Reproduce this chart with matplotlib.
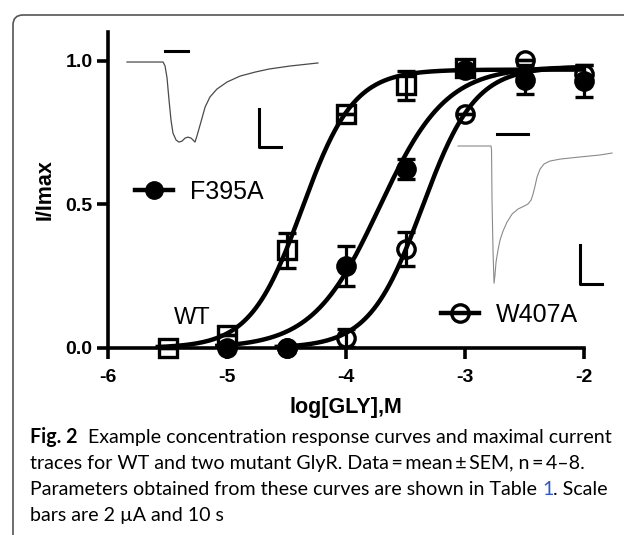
import numpy as np
import matplotlib
matplotlib.use("Agg")
import matplotlib.pyplot as plt
from matplotlib.lines import Line2D
from matplotlib.patches import FancyBboxPatch

plt.rcParams['font.family'] = ['Liberation Sans', 'DejaVu Sans']
plt.rcParams['axes.unicode_minus'] = False

# concentration (log M)
wt_x = [-5.5, -5.0, -4.5, -4.0, -3.5, -3.0]
wt_y = [0.0, 0.045, 0.34, 0.815, 0.915, 0.975]
wt_err = [0.0, 0.0, 0.06, 0.0, 0.05, 0.0]

f395a_x = [-5.0, -4.5, -4.0, -3.5, -3.0, -2.5, -2.0]
f395a_y = [0.0, 0.0, 0.285, 0.625, 0.97, 0.935, 0.93]
f395a_err = [0.0, 0.0, 0.07, 0.035, 0.0, 0.05, 0.055]

w407a_x = [-4.5, -4.0, -3.5, -3.0, -2.5, -2.0]
w407a_y = [0.0, 0.035, 0.345, 0.815, 1.005, 0.955]
w407a_err = [0.0, 0.03, 0.06, 0.0, 0.0, 0.03]

# Hill fit parameters (top, logEC50, slope)
wt_fit = (0.97, -4.37, 2.0)
f395a_fit = (0.98, -3.72, 1.55)
w407a_fit = (0.98, -3.36, 1.95)

# example traces (time s, current uA)
trace1_t = [0, 10.5, 16.4, 17.3, 18.2, 19.1, 20.0, 20.9, 22.3, 23.6, 25.0,
            26.4, 27.7, 29.1, 30.0, 30.9, 31.8, 33.2, 35.5, 37.7, 40.9,
            45.5, 51.4, 58.2, 64.5, 74.1, 86.8]
trace1_i = [0, 0, 0, -0.21, -0.84, -2.0, -3.05, -3.74, -4.1, -4.21, -4.16,
            -4.0, -3.95, -4.0, -4.1, -4.21, -3.89, -3.32, -2.37, -1.84, -1.42,
            -1.05, -0.74, -0.53, -0.37, -0.21, -0.05]
trace2_t = [0, 15.0, 15.23, 15.45, 15.9, 16.36, 16.8, 17.27, 18.18, 19.09,
            20.45, 22.27, 24.55, 27.27, 30.0, 31.8, 33.2, 34.1, 35.0, 35.9,
            37.3, 39.1, 41.8, 46.4, 55.5, 64.5, 70.0]
trace2_i = [0, 0, -0.21, -2.77, -5.33, -7.03, -6.62, -5.95, -5.33, -4.82,
            -4.36, -3.9, -3.49, -3.23, -3.08, -2.97, -2.77, -2.46, -2.05, -1.59,
            -1.18, -0.92, -0.77, -0.67, -0.56, -0.46, -0.36]


def hill(x, top, ec50, n):
    return top / (1 + 10 ** ((ec50 - x) * n))


fig = plt.figure(figsize=(6.24, 5.35), dpi=100)

# rounded frame (runs off the right and bottom edges)
frame = FancyBboxPatch((0.13, -1.0), 10, 5.35 - 0.15 + 1.0,
                       boxstyle="round,pad=0,rounding_size=0.1",
                       transform=fig.dpi_scale_trans, fill=False,
                       ec='#555555', lw=1.2)
fig.add_artist(frame)

ax = fig.add_axes([108 / 624, (535 - 348) / 535, 476 / 624, 316 / 535])
ax.set_xlim(-6, -2)
ax.set_ylim(0, 1.101)

for sp in ['top', 'right']:
    ax.spines[sp].set_visible(False)
for sp in ['left', 'bottom']:
    ax.spines[sp].set_linewidth(2.6)
ax.set_xticks([-6, -5, -4, -3, -2])
ax.set_yticks([0, 0.5, 1.0])
ax.set_yticklabels(['0.0', '0.5', '1.0'])
ax.tick_params(axis='both', direction='out', length=8, width=2.6, labelsize=14)
ax.tick_params(axis='x', pad=7)
ax.tick_params(axis='y', pad=3)
for lab in ax.get_xticklabels() + ax.get_yticklabels():
    lab.set_fontweight('bold')

ax.set_xlabel('log[GLY],M', fontsize=15.5, fontweight='bold', labelpad=8)
ax.set_ylabel('I/Imax', fontsize=15.5, fontweight='bold', labelpad=7)

# fitted curves
for xs, fit in [(wt_x, wt_fit), (f395a_x, f395a_fit), (w407a_x, w407a_fit)]:
    xx = np.linspace(xs[0] - 0.1, -2, 300)
    ax.plot(xx, hill(xx, *fit), color='black', lw=3.2, clip_on=False,
            solid_capstyle='butt', zorder=3)

mk = dict(ls='none', color='black', ms=12.5, mew=2.4, elinewidth=2.3,
          capsize=6.5, capthick=2.3, clip_on=False, zorder=4)
ax.errorbar(wt_x, wt_y, yerr=wt_err, marker='s', mfc='none', **mk)
ax.errorbar(f395a_x, f395a_y, yerr=f395a_err, marker='o', mfc='black', **mk)
ax.errorbar(w407a_x, w407a_y, yerr=w407a_err, marker='o', mfc='none', **mk)

ax.text(-5.29, 0.105, 'WT', fontsize=17, ha='center', va='center')

h_f = Line2D([], [], color='black', lw=3.2, marker='o', ms=12.5, mfc='black')
h_w = Line2D([], [], color='black', lw=3.2, marker='o', ms=12.5, mfc='none', mew=2.4)
leg1 = ax.legend([h_f], ['F395A'], loc='center left',
                 bbox_to_anchor=((135 - 108) / 476, (348 - 192) / 316),
                 frameon=False, fontsize=18, handlelength=1.5,
                 handletextpad=0.7, borderpad=0, borderaxespad=0)
ax.add_artist(leg1)
ax.legend([h_w], ['W407A'], loc='center left',
          bbox_to_anchor=((441 - 108) / 476, (348 - 315) / 316),
          frameon=False, fontsize=18, handlelength=1.5,
          handletextpad=0.7, borderpad=0, borderaxespad=0)

# inset traces with 2 uA / 10 s scale bars
ax1 = fig.add_axes([120 / 624, (535 - 155) / 535, 205 / 624, 115 / 535])
ax1.set_xlim(-3.18, 90)
ax1.set_ylim(-4.89, 1.158)
ax1.axis('off')
ax1.plot(trace1_t, trace1_i, color='#4a4a4a', lw=0.9)
ax1.plot([17.3, 27.7], [0.58, 0.58], color='black', lw=2.2)
ax1.plot([60, 60, 70], [-2.47, -4.47, -4.47], color='black', lw=2.2)

ax2 = fig.add_axes([450 / 624, (535 - 290) / 535, 170 / 624, 165 / 535])
ax2.set_xlim(-3.64, 73.6)
ax2.set_ylim(-7.38, 1.077)
ax2.axis('off')
ax2.plot(trace2_t, trace2_i, color='#8a8a8a', lw=0.8)
ax2.plot([17.7, 31.8], [0.62, 0.62], color='black', lw=2.2)
ax2.plot([55.5, 55.5, 65.5], [-5.08, -7.08, -7.08], color='black', lw=2.2)

# caption
cap_font = ['Lato', 'DejaVu Sans']
renderer = fig.canvas.get_renderer()
lines = [
    [('Fig. 2', 'bold', 'black'),
     ('  Example concentration response curves and maximal current', 'normal', 'black')],
    [('traces for WT and two mutant GlyR. Data\u2009=\u2009mean\u2009\u00b1\u2009SEM, n\u2009=\u20094\u20138.', 'normal', 'black')],
    [('Parameters obtained from these curves are shown in Table ', 'normal', 'black'),
     ('1', 'normal', '#3355cc'), ('. Scale', 'normal', 'black')],
    [('bars are 2 \u00b5A and 10 s', 'normal', 'black')],
]
baselines = [443, 469, 495, 521]

# size chosen so the first line spans the same width as in the figure
probe = fig.text(0, 0, ''.join(p[0] for p in lines[0]), fontsize=12, family=cap_font)
w = probe.get_window_extent(renderer).width
probe.remove()
cap_size = 12 * (579 / w)

for parts, yb in zip(lines, baselines):
    x = 30
    for txt, wt, col in parts:
        t = fig.text(x / 624, 1 - yb / 535, txt, fontsize=cap_size, family=cap_font,
                     fontweight=wt, color=col, va='baseline', ha='left')
        x = t.get_window_extent(renderer).x1

fig.savefig('out.png', dpi=100)
